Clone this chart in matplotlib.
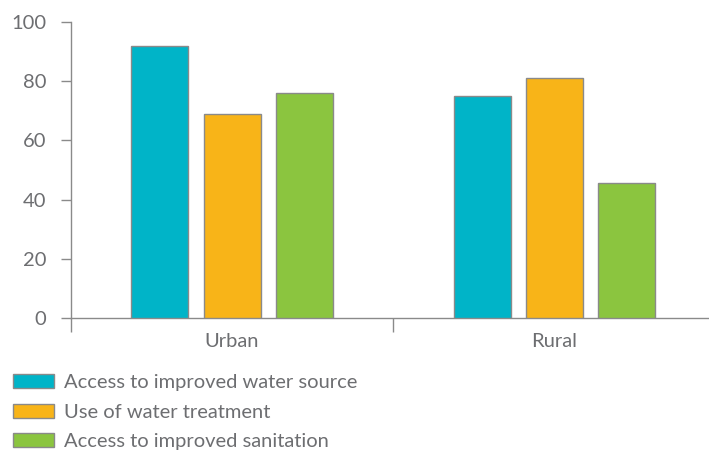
import matplotlib
matplotlib.use("Agg")
import matplotlib.pyplot as plt
import numpy as np

plt.rcParams['font.family'] = ['Lato', 'DejaVu Sans']

categories = ["Urban", "Rural"]
series_names = ["Access to improved water source", "Use of water treatment", "Access to improved sanitation"]
water_source = [92, 75]
water_treatment = [69, 81]
sanitation = [76, 45.5]
colors = ["#00B4C8", "#F8B418", "#8BC53F"]
yticks = [0, 20, 40, 60, 80, 100]

fig = plt.figure(figsize=(7.09, 4.5), dpi=100)
ax = fig.add_axes([0.1, 0.293, 0.9, 0.658])

x = np.arange(len(categories))
w = 0.177
offs = [-0.224, 0, 0.224]
grey = "#6d6e71"
for vals, off, c, name in zip([water_source, water_treatment, sanitation], offs, colors, series_names):
    ax.bar(x + off, vals, w, color=c, edgecolor="#8a8a8a", linewidth=1, label=name, zorder=3)

fs = 14.5
ax.set_ylim(0, 100)
ax.set_xlim(-0.5, 1.48)
ax.set_yticks(yticks)
ax.set_yticklabels([str(v) for v in yticks])
ax.set_xticks(x)
ax.set_xticklabels(categories)
ax.tick_params(axis='x', length=0, pad=10.5, labelsize=fs, labelcolor=grey)
ax.tick_params(axis='y', length=7.5, width=1, color="#8a8a8a", labelsize=fs, labelcolor=grey, pad=10)
ax.set_xticks([-0.5, 0.5], minor=True)
ax.tick_params(axis='x', which='minor', length=10, width=1, color="#8a8a8a")
for s in ['top', 'right']:
    ax.spines[s].set_visible(False)
for s in ['left', 'bottom']:
    ax.spines[s].set_color("#8a8a8a")
    ax.spines[s].set_linewidth(1)

handles, labels = ax.get_legend_handles_labels()
leg = fig.legend(handles, labels, loc='upper left', bbox_to_anchor=(0.018, 0.168), frameon=False,
                 fontsize=fs, handlelength=2.05, handleheight=0.7, handletextpad=0.5,
                 labelspacing=0.6, borderaxespad=0, borderpad=0)
for t in leg.get_texts():
    t.set_color(grey)

fig.savefig("out.png", dpi=100)
